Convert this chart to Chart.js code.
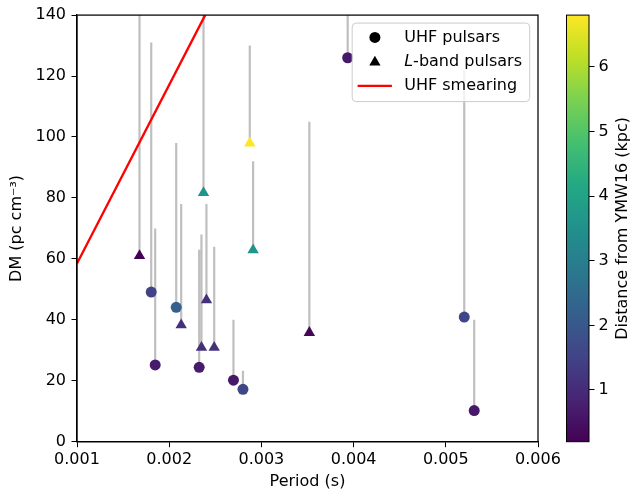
<!DOCTYPE html>
<html>
<head>
<meta charset="utf-8">
<script src="https://cdn.jsdelivr.net/npm/chart.js@4/dist/chart.umd.min.js"></script>
<style>
  html, body { margin: 0; padding: 0; background: #fff; }
</style>
</head>
<body>
<canvas id="pulsarChart" width="633" height="493"></canvas>
<script>
// UHF pulsars (circles)
const uhfPeriod = [0.001805, 0.001848, 0.002076, 0.002325, 0.002697, 0.0028, 0.003936, 0.0052, 0.005308];
const uhfDM = [49.1, 25.2, 44.1, 24.4, 20.2, 17.2, 126, 40.9, 10.2];
const uhfDMUpper = [131, 70, 98, 63, 40, 23.3, 150, 122, 40];
const uhfDist = [1.5, 0.7, 2.2, 0.7, 0.65, 1.6, 0.65, 1.6, 0.65];

// L-band pulsars (triangles)
const lbandPeriod = [0.001678, 0.00213, 0.00235, 0.002404, 0.002488, 0.00291, 0.002874, 0.002372, 0.00352];
const lbandDM = [61, 38.3, 30.9, 46.5, 30.9, 62.9, 98, 81.7, 35.8];
const lbandDMUpper = [150, 78, 68, 78, 64, 92, 130, 150, 105];
const lbandDist = [0.2, 1.1, 1.1, 1.1, 1.1, 3.6, 6.8, 3.6, 0.3];

// UHF smearing line, visible end points
const smearPeriod = [0.001, 0.00239];
const smearDM = [58.5, 140];

const distMin = 0.2;
const distMax = 6.8;
const xTicks = [0.001, 0.002, 0.003, 0.004, 0.005, 0.006];

const FONT = 'DejaVu Sans';
const FS = 16;

// viridis colormap
const viridisStops = ['#440154', '#482475', '#414487', '#355f8d', '#2a788e', '#21918c',
                      '#22a884', '#44bf70', '#7ad151', '#bddf26', '#fde725'];

function hexToRgb(h) {
    return [parseInt(h.slice(1, 3), 16), parseInt(h.slice(3, 5), 16), parseInt(h.slice(5, 7), 16)];
}

function viridis(v) {
    let t = (v - distMin) / (distMax - distMin);
    t = Math.max(0, Math.min(1, t));
    const pos = t * (viridisStops.length - 1);
    const i = Math.min(Math.floor(pos), viridisStops.length - 2);
    const f = pos - i;
    const a = hexToRgb(viridisStops[i]);
    const b = hexToRgb(viridisStops[i + 1]);
    const c = a.map((av, k) => Math.round(av + (b[k] - av) * f));
    return `rgb(${c[0]}, ${c[1]}, ${c[2]})`;
}

// vertical gray ranges, one segment per pulsar
const rangeData = [];
function addRanges(periods, dms, uppers) {
    periods.forEach((p, i) => {
        rangeData.push({ x: p, y: dms[i] });
        rangeData.push({ x: p, y: uppers[i] });
        rangeData.push({ x: p, y: null });
    });
}
addRanges(uhfPeriod, uhfDM, uhfDMUpper);
addRanges(lbandPeriod, lbandDM, lbandDMUpper);

const toPoints = (xs, ys) => xs.map((x, i) => ({ x: x, y: ys[i] }));

// frame, colorbar and legend
const extras = {
    id: 'extras',
    afterDraw(chart) {
        const ctx = chart.ctx;
        const area = chart.chartArea;
        const cb = chart.scales.dist;
        ctx.save();

        // axes frame
        ctx.strokeStyle = '#000';
        ctx.lineWidth = 1.25;
        ctx.strokeRect(area.left, area.top, area.right - area.left, area.bottom - area.top);

        // colorbar
        const barW = 22.5;
        const x0 = cb.left - barW;
        const yTop = cb.getPixelForValue(distMax);
        const yBot = cb.getPixelForValue(distMin);
        const grad = ctx.createLinearGradient(0, yBot, 0, yTop);
        viridisStops.forEach((c, i) => grad.addColorStop(i / (viridisStops.length - 1), c));
        ctx.fillStyle = grad;
        ctx.fillRect(x0, yTop, barW, yBot - yTop);
        ctx.lineWidth = 1;
        ctx.strokeRect(x0, yTop, barW, yBot - yTop);

        // colorbar label
        ctx.save();
        ctx.translate(cb.right - 10, (yTop + yBot) / 2);
        ctx.rotate(-Math.PI / 2);
        ctx.fillStyle = '#000';
        ctx.font = `${FS}px "${FONT}"`;
        ctx.textAlign = 'center';
        ctx.textBaseline = 'middle';
        ctx.fillText('Distance from YMW16 (kpc)', 0, 0);
        ctx.restore();

        // legend
        const lw = 177.5, lh = 78.5;
        const lx = area.right - 8.3 - lw;
        const ly = area.top + 8;
        ctx.beginPath();
        ctx.roundRect(lx, ly, lw, lh, 4);
        ctx.fillStyle = 'rgba(255,255,255,0.8)';
        ctx.fill();
        ctx.strokeStyle = '#cccccc';
        ctx.lineWidth = 1;
        ctx.stroke();

        const mx = lx + 22.7;
        const tx = lx + 52;
        const rows = [ly + 14.3, ly + 38.5, ly + 62.7];

        ctx.fillStyle = '#000';
        ctx.beginPath();
        ctx.arc(mx, rows[0], 5.5, 0, Math.PI * 2);
        ctx.fill();

        const r = 6.5;
        ctx.beginPath();
        ctx.moveTo(mx, rows[1] - r * 0.75 - 1);
        ctx.lineTo(mx + r * 0.866, rows[1] + r * 0.75 - 1);
        ctx.lineTo(mx - r * 0.866, rows[1] + r * 0.75 - 1);
        ctx.closePath();
        ctx.fill();

        ctx.strokeStyle = 'red';
        ctx.lineWidth = 2.3;
        ctx.beginPath();
        ctx.moveTo(lx + 5.4, rows[2]);
        ctx.lineTo(lx + 39.7, rows[2]);
        ctx.stroke();

        ctx.textAlign = 'left';
        ctx.textBaseline = 'middle';
        ctx.font = `${FS}px "${FONT}"`;
        ctx.fillText('UHF pulsars', tx, rows[0]);
        ctx.font = `italic ${FS}px "${FONT}"`;
        ctx.fillText('L', tx, rows[1]);
        const lW = ctx.measureText('L').width;
        ctx.font = `${FS}px "${FONT}"`;
        ctx.fillText('-band pulsars', tx + lW, rows[1]);
        ctx.fillText('UHF smearing', tx, rows[2]);

        ctx.restore();
    }
};

const ctx = document.getElementById('pulsarChart').getContext('2d');
new Chart(ctx, {
    type: 'scatter',
    data: {
        datasets: [
            {
                label: 'UHF pulsars',
                data: toPoints(uhfPeriod, uhfDM),
                pointStyle: 'circle',
                pointRadius: 5.5,
                pointBorderWidth: 0,
                pointBackgroundColor: uhfDist.map(viridis),
                order: 1
            },
            {
                label: 'L-band pulsars',
                data: toPoints(lbandPeriod, lbandDM),
                pointStyle: 'triangle',
                pointRadius: 6.6,
                pointBorderWidth: 0,
                pointBackgroundColor: lbandDist.map(viridis),
                order: 1
            },
            {
                label: 'UHF smearing',
                data: toPoints(smearPeriod, smearDM),
                showLine: true,
                borderColor: 'red',
                borderWidth: 2.3,
                pointRadius: 0,
                clip: 0,
                order: 2
            },
            {
                label: 'ranges',
                data: rangeData,
                showLine: true,
                spanGaps: false,
                borderColor: 'rgba(128,128,128,0.5)',
                borderWidth: 2.2,
                pointRadius: 0,
                clip: 0,
                order: 3
            }
        ]
    },
    options: {
        responsive: false,
        animation: false,
        events: [],
        layout: { padding: { top: 11, left: 0, right: 0, bottom: 0 } },
        plugins: {
            legend: { display: false },
            tooltip: { enabled: false }
        },
        scales: {
            x: {
                type: 'linear',
                min: 0.001,
                max: 0.006,
                afterBuildTicks: (scale) => { scale.ticks = xTicks.map(v => ({ value: v })); },
                afterFit: (scale) => { scale.height = 51.3; },
                grid: { drawOnChartArea: false, tickLength: 5.5, tickColor: '#000', tickWidth: 1 },
                border: { color: '#000', width: 1.25 },
                ticks: {
                    padding: 3,
                    color: '#000',
                    font: { family: FONT, size: FS },
                    maxRotation: 0,
                    callback: (v) => v.toFixed(3)
                },
                title: {
                    display: true,
                    text: 'Period (s)',
                    color: '#000',
                    font: { family: FONT, size: FS },
                    padding: { top: 0, bottom: 2 }
                }
            },
            y: {
                type: 'linear',
                min: 0,
                max: 140,
                afterFit: (scale) => { scale.width = 77; },
                grid: { drawOnChartArea: false, tickLength: 5.5, tickColor: '#000', tickWidth: 1 },
                border: { color: '#000', width: 1.25 },
                ticks: {
                    stepSize: 20,
                    padding: 5.5,
                    color: '#000',
                    font: { family: FONT, size: FS }
                },
                title: {
                    display: true,
                    text: 'DM (pc cm\u207B\u00B3)',
                    color: '#000',
                    font: { family: FONT, size: FS },
                    padding: { top: 7, bottom: 0 }
                }
            },
            gap: {
                type: 'linear',
                position: 'right',
                weight: 1,
                display: true,
                afterFit: (scale) => { scale.width = 51; },
                grid: { display: false },
                border: { display: false },
                ticks: { display: false }
            },
            dist: {
                type: 'linear',
                position: 'right',
                weight: 2,
                min: distMin,
                max: distMax,
                afterBuildTicks: (scale) => {
                    scale.ticks = scale.ticks.filter(t => Number.isInteger(t.value));
                },
                afterFit: (scale) => { scale.width = 44; },
                grid: { drawOnChartArea: false, tickLength: 5.5, tickColor: '#000', tickWidth: 1 },
                border: { display: false },
                ticks: {
                    stepSize: 1,
                    padding: 4,
                    color: '#000',
                    font: { family: FONT, size: FS }
                }
            }
        }
    },
    plugins: [extras]
});
</script>
</body>
</html>
